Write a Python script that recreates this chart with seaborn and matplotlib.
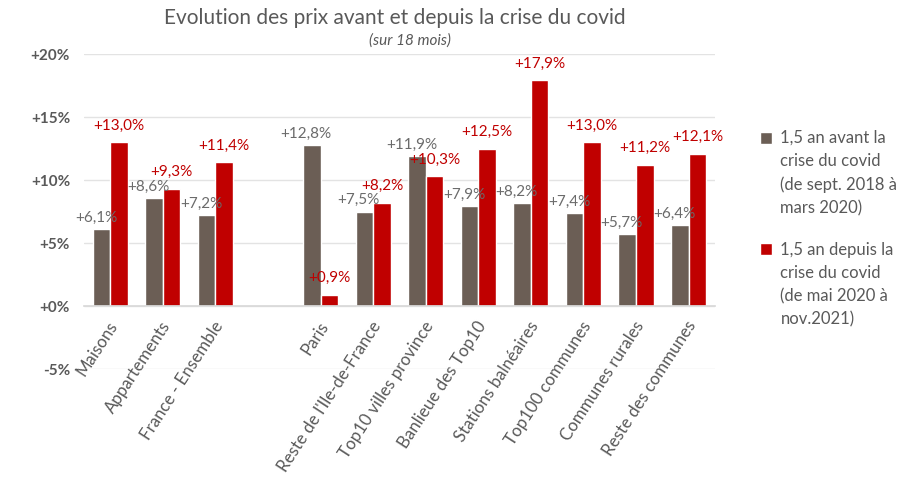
import numpy as np
import pandas as pd
import matplotlib
matplotlib.use("Agg")
import matplotlib.pyplot as plt
import seaborn as sns

categories = ["Maisons", "Appartements", "France - Ensemble", " ",
              "Paris", "Reste de l'Ile-de-France", "Top10 villes province",
              "Banlieue des Top10", "Stations balnéaires", "Top100 communes",
              "Communes rurales", "Reste des communes"]
avant = [6.1, 8.6, 7.2, np.nan, 12.8, 7.5, 11.9, 7.9, 8.2, 7.4, 5.7, 6.4]
depuis = [13.0, 9.3, 11.4, np.nan, 0.9, 8.2, 10.3, 12.5, 17.9, 13.0, 11.2, 12.1]
series = ["1,5 an avant la\ncrise du covid\n(de sept. 2018 à\nmars 2020)",
          "1,5 an depuis la\ncrise du covid\n(de mai 2020 à\nnov.2021)"]
yticks = [-5, 0, 5, 10, 15, 20]
ytick_labels = ["-5%", "+0%", "+5%", "+10%", "+15%", "+20%"]
title = "Evolution des prix avant et depuis la crise du covid"
subtitle = "(sur 18 mois)"

colors = ["#6B5E55", "#C00000"]
label_colors = ["#6B6B6B", "#C00000"]

df = pd.DataFrame({
    "cat": categories * 2,
    "serie": [series[0]] * len(categories) + [series[1]] * len(categories),
    "val": avant + depuis,
}).dropna()

sns.set_theme(style="white")
plt.rcParams["font.family"] = ["Lato", "DejaVu Sans"]

fig = plt.figure(figsize=(9.17, 4.84), dpi=100)
ax = fig.add_axes([0.0916, 0.2376, 0.688, 0.6508])

sns.barplot(data=df, x="cat", y="val", hue="serie", order=categories,
            hue_order=series, palette=colors, width=0.67, gap=0,
            saturation=1, ax=ax, legend=True)

ax.set_ylim(-5, 20)
ax.set_xlim(-0.5, len(categories) - 0.5)
ax.set_yticks(yticks)
ax.set_yticklabels(ytick_labels, fontweight="bold", color="#595959", fontsize=11)
ax.yaxis.grid(True, color="#E3E3E3", linewidth=1)
ax.set_axisbelow(True)
for s in ["top", "right", "left"]:
    ax.spines[s].set_visible(False)
ax.spines["bottom"].set_position(("data", 0))
ax.spines["bottom"].set_color("#D9D9D9")
ax.tick_params(axis="both", length=0)
ax.tick_params(axis="y", pad=10)
ax.set_xlabel("")
ax.set_ylabel("")
ax.set_xticks(range(len(categories)))
for lbl in ax.set_xticklabels(categories, rotation=57, ha="right", va="center",
                              rotation_mode="anchor", fontsize=12.2, color="#595959"):
    pass
ax.tick_params(axis="x", pad=12)
# nudge category labels slightly right, as in the reference
import matplotlib.transforms as mtrans
offset = mtrans.ScaledTranslation(4 / 100, 0, fig.dpi_scale_trans)
for lbl in ax.get_xticklabels():
    lbl.set_transform(lbl.get_transform() + offset)

fmt = lambda v: ("+" + f"{v:.1f}%").replace(".", ",")
pads = [3, 7]
for i, cont in enumerate(ax.containers):
    anns = ax.bar_label(cont, fmt=fmt, padding=pads[i], color=label_colors[i],
                        fontsize=11)
    if i == 0:
        for a in anns:
            a.xyann = (-4, pads[i])

leg = ax.legend(loc="upper left", bbox_to_anchor=(0.822, 0.745),
                bbox_transform=fig.transFigure, frameon=False, fontsize=12,
                labelspacing=1.5, handlelength=0.7, handleheight=0.7,
                handletextpad=0.5, borderaxespad=0)
for t in leg.get_texts():
    t.set_color("#595959")
    t.set_linespacing(1.55)
for h in leg.legend_handles:
    h.set_y(h.get_y() + 26)

fig.text(0.431, 0.962, title, ha="center", va="center", fontsize=15, color="#595959")
fig.text(0.447, 0.917, subtitle, ha="center", va="center", fontsize=11,
         style="italic", color="#595959")

fig.savefig("out.png", dpi=100)
